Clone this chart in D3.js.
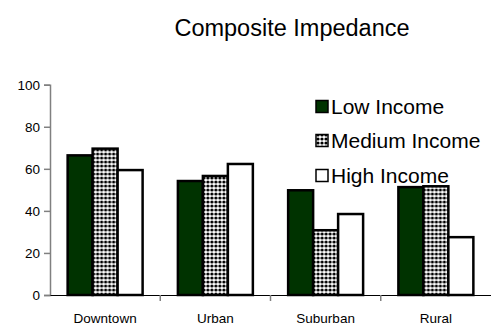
<!DOCTYPE html>
<html>
<head>
<meta charset="utf-8">
<script src="https://cdn.jsdelivr.net/npm/d3@7"></script>
<style>
  html, body { margin: 0; padding: 0; background: #fff; }
  svg { display: block; font-family: "Liberation Sans", Arial, sans-serif; }
</style>
</head>
<body>
<svg id="chart" width="491" height="330"></svg>
<script>
const categories = ["Downtown", "Urban", "Suburban", "Rural"];
const seriesNames = ["Low Income", "Medium Income", "High Income"];
const lowIncome = [66.4, 54.2, 49.8, 51.3];
const mediumIncome = [69.6, 56.6, 30.8, 51.7];
const highIncome = [59.4, 62.3, 38.5, 27.5];
const yTicks = [0, 20, 40, 60, 80, 100];

const series = [lowIncome, mediumIncome, highIncome];

const svg = d3.select("#chart");

// fill pattern for the medium-income bars: dense black dots on white
const defs = svg.append("defs");
const pat = defs.append("pattern")
  .attr("id", "dots")
  .attr("patternUnits", "userSpaceOnUse")
  .attr("width", 4).attr("height", 4);
pat.append("rect").attr("width", 4).attr("height", 4).attr("fill", "#fff");
pat.append("circle")
  .attr("cx", 2).attr("cy", 2).attr("r", 1.6)
  .attr("fill", "#000");

const fills = ["#003300", "url(#dots)", "#ffffff"];

const x = d3.scaleBand()
  .domain(categories)
  .range([50, 491])
  .paddingInner(0.32)
  .paddingOuter(0.16);

const xs = d3.scaleBand()
  .domain(seriesNames)
  .range([0, x.bandwidth()]);

const y = d3.scaleLinear().domain([0, 100]).range([295, 84.7]);

// title
svg.append("text")
  .attr("x", 292).attr("y", 36)
  .attr("text-anchor", "middle")
  .attr("font-size", 23.5)
  .attr("fill", "#000")
  .text("Composite Impedance");

// bars
const groups = svg.append("g").selectAll("g")
  .data(categories)
  .join("g")
  .attr("transform", d => `translate(${x(d)},0)`);

groups.selectAll("rect")
  .data((c, i) => series.map((s, k) => ({ name: seriesNames[k], value: s[i], k })))
  .join("rect")
  .attr("x", d => xs(d.name))
  .attr("y", d => y(d.value))
  .attr("width", xs.bandwidth())
  .attr("height", d => y(0) - y(d.value))
  .attr("fill", d => fills[d.k])
  .attr("stroke", "#000")
  .attr("stroke-width", 2.5);

// y axis
const yAxis = svg.append("g")
  .attr("transform", "translate(50,0)")
  .call(d3.axisLeft(y).tickValues(yTicks).tickSize(6).tickPadding(4));
yAxis.select(".domain").attr("stroke", "#808080").attr("stroke-width", 1.5);
yAxis.selectAll(".tick line").attr("stroke", "#808080").attr("stroke-width", 1.5);
yAxis.selectAll(".tick text")
  .attr("font-size", 13.5).attr("fill", "#000")
  .attr("font-family", "Liberation Sans, Arial, sans-serif");

// x axis
const xAxis = svg.append("g")
  .attr("transform", "translate(0,295)")
  .call(d3.axisBottom(x).tickSize(0).tickPadding(18));
xAxis.select(".domain").attr("stroke", "#000").attr("stroke-width", 1.2);
xAxis.selectAll(".tick text")
  .attr("font-size", 13.5).attr("fill", "#000")
  .attr("font-family", "Liberation Sans, Arial, sans-serif");

// category separators on the x axis
svg.append("g").selectAll("line")
  .data(categories.slice(1))
  .join("line")
  .attr("x1", d => x(d) - x.step() * x.paddingInner() / 2)
  .attr("x2", d => x(d) - x.step() * x.paddingInner() / 2)
  .attr("y1", 295).attr("y2", 301)
  .attr("stroke", "#808080").attr("stroke-width", 1.5);

// legend
const legend = svg.append("g").attr("transform", "translate(316,0)");
const legendY = [107, 141, 176];
seriesNames.forEach((name, k) => {
  const g = legend.append("g").attr("transform", `translate(0,${legendY[k]})`);
  g.append("rect")
    .attr("x", 0).attr("y", -6.5)
    .attr("width", 12).attr("height", 12)
    .attr("fill", fills[k])
    .attr("stroke", "#000").attr("stroke-width", 1.5);
  g.append("text")
    .attr("x", 15).attr("y", 0)
    .attr("dy", "0.35em")
    .attr("font-size", 21)
    .attr("fill", "#000")
    .text(name);
});
</script>
</body>
</html>
